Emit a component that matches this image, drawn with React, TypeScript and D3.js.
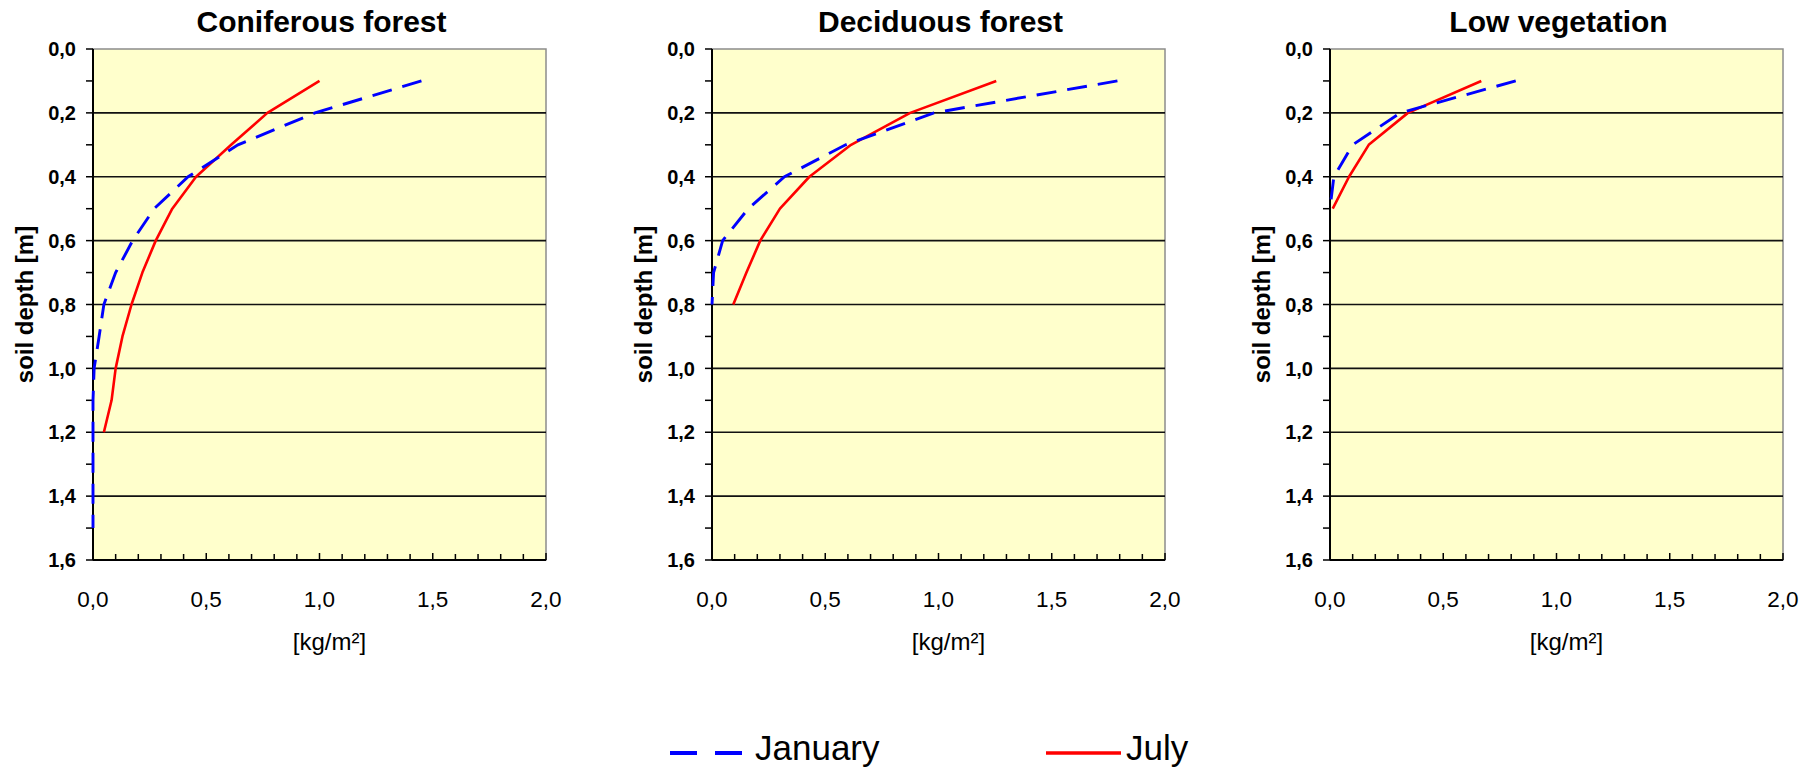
import React from 'react'
import * as d3 from 'd3'

// depth levels [m], top to bottom
const DEPTHS = [0.1, 0.2, 0.3, 0.4, 0.5, 0.6, 0.7, 0.8, 0.9, 1.0, 1.1, 1.2, 1.3, 1.4, 1.5]

// values [kg/m²], one per depth level from the top
const coniferousJanuary = [1.45, 0.98, 0.64, 0.42, 0.27, 0.175, 0.1, 0.048, 0.027, 0.005, 0, 0, 0, 0, 0]
const coniferousJuly = [1.0, 0.77, 0.61, 0.455, 0.35, 0.277, 0.218, 0.17, 0.13, 0.1, 0.082, 0.048]
const deciduousJanuary = [1.79, 0.98, 0.59, 0.32, 0.16, 0.047, 0.007, 0]
const deciduousJuly = [1.255, 0.875, 0.614, 0.43, 0.3, 0.213, 0.152, 0.094]
const lowVegJanuary = [0.82, 0.31, 0.1, 0.017, 0]
const lowVegJuly = [0.668, 0.344, 0.171, 0.084, 0.012]

const PANEL_TITLES = ['Coniferous forest', 'Deciduous forest', 'Low vegetation']
const JANUARY = [coniferousJanuary, deciduousJanuary, lowVegJanuary]
const JULY = [coniferousJuly, deciduousJuly, lowVegJuly]

const X_TICKS = [0, 0.5, 1.0, 1.5, 2.0]
const Y_TICKS = [0, 0.2, 0.4, 0.6, 0.8, 1.0, 1.2, 1.4, 1.6]
const LEGEND = ['January', 'July']

const FONT = '"Liberation Sans", Arial, Helvetica, sans-serif'
const BLUE = '#0000ff'
const RED = '#ff0000'

const W = 1818
const H = 767
const PLOT_LEFT = [93, 712, 1330]
const PLOT_W = 453
const PLOT_TOP = 49
const PLOT_H = 511

const fmt = (v: number) => d3.format('.1f')(v).replace('.', ',')

function Panel({ idx }: { idx: number }) {
  const left = PLOT_LEFT[idx]
  const x = d3.scaleLinear().domain([0, 2]).range([left, left + PLOT_W])
  const y = d3.scaleLinear().domain([0, 1.6]).range([PLOT_TOP, PLOT_TOP + PLOT_H])
  const line = d3.line<[number, number]>().x(d => x(d[1])).y(d => y(d[0]))
  const jan = JANUARY[idx].map((v, i) => [DEPTHS[i], v] as [number, number])
  const jul = JULY[idx].map((v, i) => [DEPTHS[i], v] as [number, number])
  const minorX = d3.range(0, 21).map(i => i / 10)
  const minorY = d3.range(0, 17).map(i => i / 10)
  const cx = left + PLOT_W / 2
  const cy = PLOT_TOP + PLOT_H / 2

  return (
    <g>
      <text x={cx + 2} y={32} textAnchor="middle" fontFamily={FONT} fontWeight="bold" fontSize={30}>
        {PANEL_TITLES[idx]}
      </text>
      <rect x={left} y={PLOT_TOP} width={PLOT_W} height={PLOT_H} fill="#ffffcc" stroke="#8c8c8c" strokeWidth={1.5} />
      {Y_TICKS.filter(t => t > 0 && t < 1.6).map(t => (
        <line key={t} x1={left} x2={left + PLOT_W} y1={y(t)} y2={y(t)} stroke="#111" strokeWidth={1.6} />
      ))}
      {/* y axis */}
      <line x1={left} x2={left} y1={PLOT_TOP} y2={PLOT_TOP + PLOT_H} stroke="#000" strokeWidth={2} />
      {minorY.map(t => (
        <line key={t} x1={left - 7} x2={left} y1={y(t)} y2={y(t)} stroke="#000" strokeWidth={1.5} />
      ))}
      {Y_TICKS.map(t => (
        <text key={t} x={left - 17} y={y(t)} dy="0.36em" textAnchor="end" fontFamily={FONT}
          fontWeight="bold" fontSize={20}>{fmt(t)}</text>
      ))}
      {/* x axis */}
      <line x1={left} x2={left + PLOT_W} y1={PLOT_TOP + PLOT_H} y2={PLOT_TOP + PLOT_H} stroke="#000" strokeWidth={2} />
      {minorX.map(t => {
        const major = Math.abs(t * 2 - Math.round(t * 2)) < 1e-6
        return (
          <line key={t} x1={x(t)} x2={x(t)} y1={PLOT_TOP + PLOT_H} y2={PLOT_TOP + PLOT_H - (major ? 7 : 6)}
            stroke="#000" strokeWidth={1.5} />
        )
      })}
      {X_TICKS.map(t => (
        <text key={t} x={x(t)} y={607} textAnchor="middle" fontFamily={FONT} fontSize={22.5}>{fmt(t)}</text>
      ))}
      <text x={cx + 10} y={650} textAnchor="middle" fontFamily={FONT} fontSize={24}>[kg/m²]</text>
      <text transform={`translate(${left - 60},${cy}) rotate(-90)`} textAnchor="middle"
        fontFamily={FONT} fontWeight="bold" fontSize={24}>soil depth [m]</text>
      {/* series */}
      <path d={line(jul) || ''} fill="none" stroke={RED} strokeWidth={2.6} strokeLinejoin="round" />
      <path d={line(jan) || ''} fill="none" stroke={BLUE} strokeWidth={2.9} strokeDasharray="20,11" />
    </g>
  )
}

export default function App() {
  return (
    <svg width={W} height={H} style={{ position: 'absolute', left: 0, top: 0, background: '#fff' }}>
      <rect width={W} height={H} fill="#fff" />
      {PANEL_TITLES.map((_, i) => <Panel key={i} idx={i} />)}
      {/* legend */}
      <line x1={670} x2={742} y1={753} y2={753} stroke={BLUE} strokeWidth={4} strokeDasharray="27,18" />
      <text x={755} y={760} fontFamily={FONT} fontSize={35}>{LEGEND[0]}</text>
      <line x1={1046} x2={1121} y1={753} y2={753} stroke={RED} strokeWidth={3.5} />
      <text x={1126} y={760} fontFamily={FONT} fontSize={35}>{LEGEND[1]}</text>
    </svg>
  )
}
